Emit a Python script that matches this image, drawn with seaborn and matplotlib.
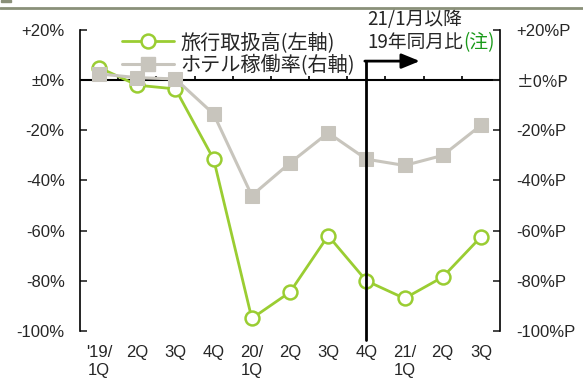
import numpy as np
import pandas as pd
import matplotlib.pyplot as plt
import seaborn as sns
from matplotlib.lines import Line2D
from matplotlib.patches import Rectangle

# datos
quarters = ["'19/\n1Q", "2Q", "3Q", "4Q", "20/\n1Q", "2Q", "3Q", "4Q", "21/\n1Q", "2Q", "3Q"]
travel = [5, -2, -3.5, -31.5, -95, -84.5, -62, -80, -87, -78.5, -62.5]
hotel = [2.5, 1, 0.5, -13.5, -46, -33, -21, -31.5, -34, -30, -18]
yticks = [20, 0, -20, -40, -60, -80, -100]
left_labels = ["+20%", "±0%", "-20%", "-40%", "-60%", "-80%", "-100%"]
right_labels = ["+20%P", "±0%P", "-20%P", "-40%P", "-60%P", "-80%P", "-100%P"]

df = pd.DataFrame({"pos": np.arange(len(quarters)), "travel": travel, "hotel": hotel})

green = "#9acd32"
gray = "#c8c5bd"
latin = ["Liberation Sans", "Noto Sans CJK JP"]
cjk = ["Noto Sans CJK JP", "DejaVu Sans"]

sns.set_style("white")
plt.rcParams["font.family"] = latin

fig = plt.figure(figsize=(5.83, 3.81), dpi=100)
ax = fig.add_axes([80 / 583, 1 - 331 / 381, 420 / 583, 301 / 381])
ax2 = ax.twinx()

sns.lineplot(data=df, x="pos", y="travel", ax=ax, color=green, linewidth=2,
             marker="o", markersize=10, markerfacecolor="white",
             markeredgecolor=green, markeredgewidth=1.8, clip_on=False,
             label="旅行取扱高(左軸)", legend=False)
sns.lineplot(data=df, x="pos", y="hotel", ax=ax2, color=gray, linewidth=2.2,
             marker="s", markersize=10.5, markerfacecolor=gray,
             markeredgecolor=gray, clip_on=False,
             label="ホテル稼働率(右軸)", legend=False)

for a in (ax, ax2):
    a.set_xlim(-0.5, len(quarters) - 0.5)
    a.set_ylim(-100, 20)
    a.set_xlabel("")
    a.set_ylabel("")
    for s in ("top", "bottom", "left", "right"):
        a.spines[s].set_visible(False)

ax.spines["left"].set_visible(True)
ax.spines["left"].set_color("black")
ax.spines["left"].set_linewidth(1.2)
ax2.spines["right"].set_visible(True)
ax2.spines["right"].set_color("black")
ax2.spines["right"].set_linewidth(1.2)

ax.set_yticks(yticks)
ax.set_yticklabels(left_labels, fontsize=12)
ax.tick_params(axis="y", direction="in", length=5, width=1.2, pad=11, left=True)
ax2.set_yticks(yticks)
ax2.set_yticklabels(right_labels, fontsize=12)
ax2.get_yticklabels()[1].set_fontfamily(cjk)
ax2.tick_params(axis="y", direction="in", length=5, width=1.2, pad=12, right=True)

ax.set_xticks(df["pos"])
ax.set_xticklabels(quarters, fontsize=12, linespacing=1.3, va="top")
ax.tick_params(axis="x", length=0, pad=10)

# eje en 0 con marcas entre trimestres
ax.axhline(0, color="black", linewidth=1.5, zorder=1)
ax.vlines(np.arange(0.5, len(quarters) - 0.5), 0, 1.8, color="black", linewidth=1.2, zorder=1)

# linea vertical y flecha
ax2.plot([7, 7], [-103.5, 7.6], color="black", linewidth=2, clip_on=False, zorder=5)
ax2.annotate("", xy=(8.4, 7.6), xytext=(6.96, 7.6),
             arrowprops=dict(arrowstyle="-|>,head_length=1.1,head_width=0.45",
                             color="black", lw=2, shrinkA=0, shrinkB=0))
ax2.text(7.02, 24, "21/1月以降", fontsize=13.5, family=cjk, va="center", ha="left")
t = ax2.text(7.02, 15, "19年同月比", fontsize=13.5, family=cjk, va="center", ha="left")
ax2.annotate("(注)", xycoords=t, xy=(1, 0.5), va="center", ha="left",
             fontsize=13.5, family=cjk, color="#1a9a1a")

handles = [Line2D([], [], color=green, linewidth=2, marker="o", markersize=10,
                  markerfacecolor="white", markeredgecolor=green, markeredgewidth=1.8),
           Line2D([], [], color=gray, linewidth=2.2, marker="s", markersize=10.5,
                  markerfacecolor=gray, markeredgecolor=gray)]
leg = ax2.legend(handles, ["旅行取扱高(左軸)", "ホテル稼働率(右軸)"],
                 loc="upper left", bbox_to_anchor=(122 / 583, 1 - 32 / 381),
                 bbox_transform=fig.transFigure, frameon=False,
                 prop={"family": cjk, "size": 14.5}, handlelength=2.6,
                 handletextpad=0.3, labelspacing=0.12, borderpad=0, borderaxespad=0)

# barra superior
fig.add_artist(Line2D([0, 1], [1 - 7.5 / 381, 1 - 7.5 / 381], color="#8a9079",
                      linewidth=2, transform=fig.transFigure))
fig.add_artist(Rectangle((1 / 583, 1 - 2 / 381), 10 / 583, 2 / 381,
                         color="#8a9079", transform=fig.transFigure))

fig.savefig("out.png", dpi=100)
